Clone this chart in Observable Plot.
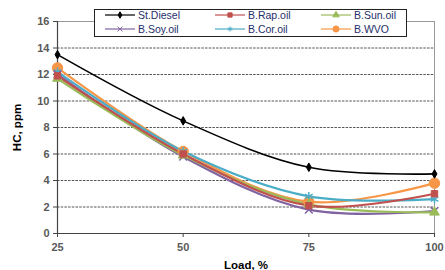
<!DOCTYPE html>
<html>
<head>
<meta charset="utf-8">
<script src="https://cdn.jsdelivr.net/npm/d3@7"></script>
<script src="https://cdn.jsdelivr.net/npm/@observablehq/plot@0.6"></script>
<style>
  body { margin: 0; background: #fff; }
  #wrap { position: relative; width: 445px; height: 270px; font-family: Arial, "Liberation Sans", sans-serif; }
  #legend { position: absolute; left: 94px; top: 9px; width: 313px; height: 28px; border: 1.5px solid #222; background: #fff; box-sizing: border-box; }
  .item { position: absolute; display: flex; align-items: center; font-size: 10.5px; }
  .item svg { margin-right: 3px; }
</style>
</head>
<body>
<div id="wrap"><div id="legend"></div></div>
<script>
const loads = [25, 50, 75, 100];
const seriesNames = ["St.Diesel", "B.Rap.oil", "B.Sun.oil", "B.Soy.oil", "B.Cor.oil", "B.WVO"];
const stDiesel = [13.5, 8.5, 5.0, 4.5];
const bRap = [11.9, 6.0, 2.1, 3.0];
const bSun = [11.7, 5.9, 2.2, 1.6];
const bSoy = [12.0, 5.8, 1.8, 1.7];
const bCor = [12.2, 6.2, 2.8, 2.6];
const bWVO = [12.5, 6.2, 2.4, 3.8];
const yTicks = [0, 2, 4, 6, 8, 10, 12, 14, 16];

const values = [stDiesel, bRap, bSun, bSoy, bCor, bWVO];
const colors = ["#000000", "#C0504D", "#9BBB59", "#8064A2", "#4BACC6", "#F79646"];
const symbols = ["diamond", "square", "triangle", "times", "asterisk", "circle"];
const filled = [true, true, true, false, false, true];
const radii = [2.6, 3.6, 3.6, 3.6, 4.2, 5.2];

const data = [];
seriesNames.forEach((s, i) => loads.forEach((x, j) => data.push({series: s, load: x, hc: values[i][j], idx: i})));

const marks = [
  Plot.ruleY(yTicks.filter(v => v > 0 && v < 16), {stroke: "#555", strokeDasharray: "2.5,1.2", strokeWidth: 1}),
  Plot.ruleY([16], {stroke: "#999", strokeWidth: 1}),
  Plot.ruleX([100], {stroke: "#999", strokeWidth: 1}),
  Plot.ruleX([25], {stroke: "#444", strokeWidth: 1.2}),
  Plot.ruleY([0], {stroke: "#444", strokeWidth: 1.2}),
];
const order = [5, 4, 3, 2, 1, 0];
order.forEach(i => {
  const d = data.filter(r => r.idx === i);
  marks.push(Plot.line(d, {x: "load", y: "hc", stroke: colors[i], strokeWidth: i === 0 ? 1.6 : 2.2, curve: "catmull-rom"}));
});
order.forEach(i => {
  const d = data.filter(r => r.idx === i);
  marks.push(Plot.dot(d, {x: "load", y: "hc", symbol: () => symbols[i], r: radii[i],
    fill: filled[i] ? colors[i] : "none", stroke: colors[i], strokeWidth: filled[i] ? 1 : 1.5}));
});

const chart = Plot.plot({
  width: 445, height: 270,
  marginLeft: 57, marginRight: 11, marginTop: 21, marginBottom: 37,
  style: {fontFamily: "Arial, 'Liberation Sans', sans-serif", fontSize: "11px", fontWeight: "bold", color: "#595959"},
  x: {domain: [25, 100]},
  y: {domain: [0, 16]},
  symbol: {type: "identity"},
  marks: [
    Plot.axisX({ticks: loads, tickSize: 4, tickPadding: 6, tickFormat: d => String(d), label: "Load, %", labelAnchor: "center", labelArrow: "none", labelOffset: 35, stroke: "#444", fill: "#595959"}),
    Plot.axisY({ticks: yTicks, tickSize: 4, tickPadding: 4, label: "HC, ppm", labelAnchor: "center", labelArrow: "none", labelOffset: 45, stroke: "#444", fill: "#595959"}),
    ...marks
  ]
});
document.getElementById("wrap").prepend(chart);
chart.style.position = "absolute"; chart.style.left = "0"; chart.style.top = "0";
chart.querySelectorAll("g[aria-label='x-axis label'] text, g[aria-label='y-axis label'] text").forEach(t => { t.setAttribute("fill", "#000"); t.style.fontSize = "11.5px"; });

// legend
const legend = document.getElementById("legend");
const cols = [10, 120, 226];
const rows = [0, 14];
const symMap = {diamond: d3.symbolDiamond, square: d3.symbolSquare, triangle: d3.symbolTriangle, times: d3.symbolTimes, asterisk: d3.symbolAsterisk, circle: d3.symbolCircle};
seriesNames.forEach((name, i) => {
  const div = document.createElement("div");
  div.className = "item";
  div.style.left = cols[i % 3] + "px";
  div.style.top = (rows[Math.floor(i / 3)] - 1) + "px";
  const sym = d3.symbol(symMap[symbols[i]], i === 5 ? 30 : (i === 0 ? 12 : 18))();
  div.innerHTML = `<svg width="30" height="12"><line x1="0" x2="30" y1="6" y2="6" stroke="${colors[i]}" stroke-width="1.2"/><path transform="translate(15,6)" d="${sym}" fill="${filled[i] ? colors[i] : "none"}" stroke="${colors[i]}" stroke-width="1"/></svg><span style="color:#1f2f6a">${name}</span>`;
  legend.appendChild(div);
});
</script>
</body>
</html>
